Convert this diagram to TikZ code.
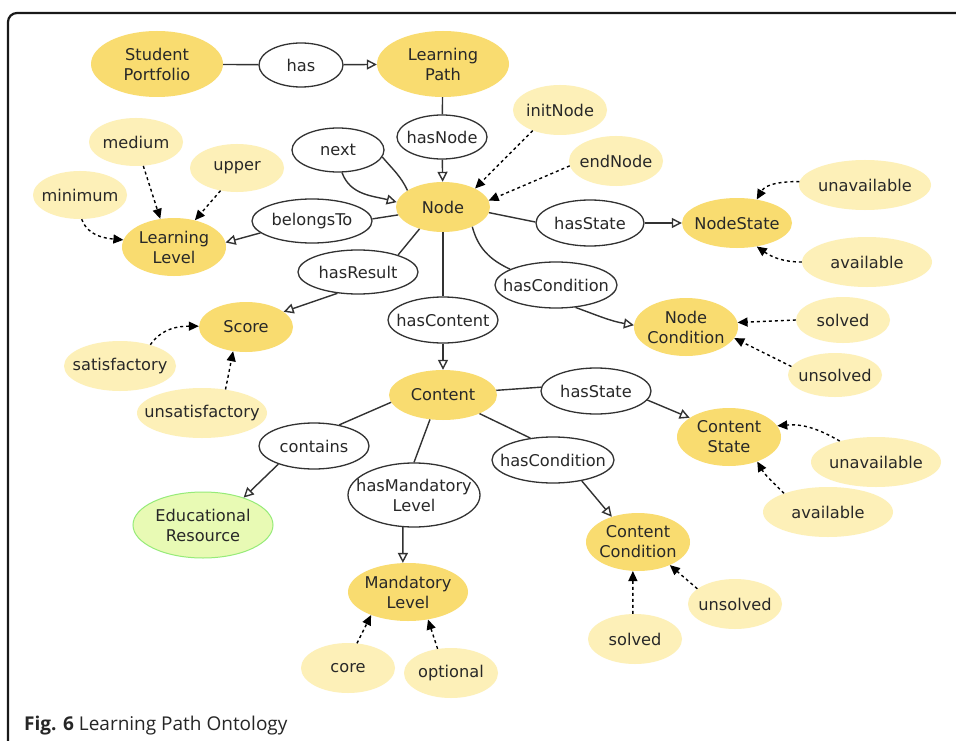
\documentclass[tikz,border=0pt]{standalone}
\usepackage{fontspec}
\setmainfont{DejaVu Sans}
\newfontfamily\capfont{Open Sans}
\usetikzlibrary{shapes.geometric,arrows.meta}
\definecolor{gold}{RGB}{249,220,112}
\definecolor{lgold}{RGB}{253,240,184}
\definecolor{lgreen}{RGB}{232,250,180}
\definecolor{gborder}{RGB}{150,235,120}
\definecolor{txt}{RGB}{40,40,40}
\definecolor{edgec}{RGB}{50,50,50}
\begin{document}
\begin{tikzpicture}[x=1pt,y=1pt,
  sz/.style n args={2}{minimum width=#1pt, minimum height=#2pt},
  lbl/.style={font=\fontsize{16.2}{20}\selectfont, text=txt, align=center, inner sep=0pt},
  cls/.style={ellipse, fill=gold, inner sep=0pt},
  ind/.style={ellipse, fill=lgold, inner sep=0pt},
  prop/.style={ellipse, draw=edgec, line width=1.3pt, fill=white, inner sep=0pt},
  er/.style={ellipse, fill=lgreen, draw=gborder, line width=1pt, inner sep=0pt},
  link/.style={draw=edgec, line width=1.4pt},
  isa/.style={link, -{Triangle[open, length=10pt, width=10pt]}},
  inst/.style={draw=black, line width=1.4pt, dash pattern=on 3pt off 3pt, -{Triangle[length=10pt,width=9pt]}}
]
\useasboundingbox (0,0) rectangle (956,-741);
\fill[white] (0,0) rectangle (956,-741);
\draw[line width=2.2pt, rounded corners=9pt, draw=black!90] (8,-760) -- (8,-13) -- (970,-13);

% nodes
\node[cls, sz={132}{66}, label={[lbl]center:Student\\Portfolio}] (SP) at (157,-64) {};
\node[prop, sz={84}{44}, label={[lbl]center:has}] (has) at (301,-65) {};
\node[cls, sz={132}{66}, label={[lbl]center:Learning\\Path}] (LP) at (443,-64) {};
\node[prop, sz={90}{44}, label={[lbl]center:hasNode}] (hasNode) at (442,-137) {};
\node[cls, sz={94}{50}, label={[lbl]center:Node}] (Node) at (443,-207) {};
\node[prop, sz={92}{44}, label={[lbl]center:next}] (next) at (338,-150) {};
\node[prop, sz={120}{44}, label={[lbl]center:belongsTo}] (belongsTo) at (312,-221) {};
\node[prop, sz={120}{44}, label={[lbl]center:hasResult}] (hasResult) at (358,-272) {};
\node[ind, sz={94}{48}, label={[lbl]center:medium}] (medium) at (136,-142) {};
\node[ind, sz={94}{48}, label={[lbl]center:upper}] (upper) at (237,-168) {};
\node[ind, sz={94}{48}, label={[lbl]center:minimum}] (minimum) at (80,-195) {};
\node[cls, sz={104}{58}, label={[lbl]center:Learning\\Level}] (LL) at (174,-247) {};
\node[ind, sz={94}{50}, label={[lbl]center:initNode}] (initNode) at (560,-110) {};
\node[ind, sz={94}{50}, label={[lbl]center:endNode}] (endNode) at (616,-161) {};
\node[prop, sz={108}{46}, label={[lbl]center:hasState}] (hasState) at (590,-223) {};
\node[cls, sz={110}{50}, label={[lbl]center:NodeState}] (NodeState) at (737,-223) {};
\node[ind, sz={132}{50}, label={[lbl]center:unavailable}] (unavN) at (865,-185) {};
\node[ind, sz={130}{50}, label={[lbl]center:available}] (avN) at (867,-262) {};
\node[prop, sz={122}{46}, label={[lbl]center:hasCondition}] (hasCondN) at (556,-285) {};
\node[prop, sz={110}{46}, label={[lbl]center:hasContent}] (hasContent) at (443,-320) {};
\node[cls, sz={104}{58}, label={[lbl]center:Node\\Condition}] (NC) at (686,-327) {};
\node[ind, sz={94}{46}, label={[lbl]center:solved}] (solvedN) at (843,-320) {};
\node[ind, sz={94}{44}, label={[lbl]center:unsolved}] (unsolvedN) at (835,-375) {};
\node[cls, sz={94}{50}, label={[lbl]center:Score}] (Score) at (246,-327) {};
\node[ind, sz={112}{50}, label={[lbl]center:satisfactory}] (satis) at (120,-366) {};
\node[ind, sz={130}{50}, label={[lbl]center:unsatisfactory}] (unsatis) at (202,-413) {};
\node[cls, sz={108}{50}, label={[lbl]center:Content}] (Content) at (443,-395) {};
\node[prop, sz={110}{46}, label={[lbl]center:contains}] (contains) at (314,-446) {};
\node[er, sz={140}{66}, label={[lbl]center:Educational\\Resource}] (ER) at (203,-525) {};
\node[prop, sz={132}{64}, label={[lbl]center:hasMandatory\\Level}] (hasML) at (414,-495) {};
\node[prop, sz={110}{46}, label={[lbl]center:hasState}] (hasStateC) at (596,-391) {};
\node[prop, sz={122}{46}, label={[lbl]center:hasCondition}] (hasCondC) at (553,-460) {};
\node[cls, sz={104}{58}, label={[lbl]center:Content\\State}] (CS) at (729,-437) {};
\node[ind, sz={130}{50}, label={[lbl]center:unavailable}] (unavC) at (876,-462) {};
\node[ind, sz={130}{50}, label={[lbl]center:available}] (avC) at (828,-512) {};
\node[cls, sz={104}{58}, label={[lbl]center:Content\\Condition}] (CC) at (638,-542) {};
\node[cls, sz={120}{58}, label={[lbl]center:Mandatory\\Level}] (ML) at (408,-592) {};
\node[ind, sz={94}{50}, label={[lbl]center:core}] (core) at (348,-668) {};
\node[ind, sz={94}{50}, label={[lbl]center:optional}] (optional) at (451,-673) {};
\node[ind, sz={94}{50}, label={[lbl]center:solved}] (solvedC) at (635,-639) {};
\node[ind, sz={94}{50}, label={[lbl]center:unsolved}] (unsolvedC) at (735,-604) {};

\node[anchor=base west, inner sep=0pt, font=\capfont\fontsize{19}{22}\selectfont, text=black!85] (cap) at (24,-730) {\textbf{Fig. 6} Learning Path Ontology};

% property links
\draw[link] (SP) -- (has);
\draw[isa] (has) -- (LP);
\draw[link] (LP) -- (hasNode);
\draw[isa] (hasNode) -- (Node);
\draw[link] (Node.155) to[out=115, in=-50] (next.-9);
\draw[isa] (next.-80) to[out=-70, in=165] (Node.174);
\draw[link] (Node.190) -- (belongsTo.2);
\draw[isa] (belongsTo.193) -- (LL.5);
\draw[link] (Node.223) -- (hasResult.23);
\draw[isa] (hasResult.226) -- (Score.22);
\draw[link] (Node) -- (hasContent);
\draw[isa] (hasContent) -- (Content);
\draw[link] (Node.-7) -- (hasState.179);
\draw[isa] (hasState) -- (NodeState);
\draw[link] (Node.-34) to[out=-75, in=155] (hasCondN.161);
\draw[isa] (hasCondN.-49) to[out=-20, in=170] (NC.178);
\draw[link] (Content.188) -- (contains.40);
\draw[isa] (contains.207) -- (ER.34);
\draw[link] (Content.242) -- (hasML.90);
\draw[isa] (hasML.251) -- (ML.100);
\draw[link] (Content.5) -- (hasStateC.176);
\draw[isa] (hasStateC.-10) -- (CS.154);
\draw[link] (Content.-27) -- (hasCondC.136);
\draw[isa] (hasCondC.-36) -- (CC.136);

% instance links
\draw[inst] (initNode.217) -- (Node.30);
\draw[inst] (endNode.186) -- (Node.8);
\draw[inst] (medium.-73) -- (LL.116);
\draw[inst] (upper.234) -- (LL.52);
\draw[inst] (minimum.-86) to[out=-70, in=175] (LL.172);
\draw[inst] (unavN.177) to[out=180, in=60] (NodeState.50);
\draw[inst] (avN.180) to[out=180, in=-35] (NodeState.-50);
\draw[inst] (unavC.150) to[out=150, in=5] (CS.13);
\draw[inst] (avC.157) to[out=135, in=-60] (CS.-41);
\draw[inst] (solvedN.180) -- (NC.5);
\draw[inst] (unsolvedN.169) -- (NC.-13);
\draw[inst] (solvedC.95) -- (CC.260);
\draw[inst] (unsolvedC.158) -- (CC.-36);
\draw[inst] (core.70) -- (ML.212);
\draw[inst] (optional.119) -- (ML.-54);
\draw[inst] (satis.35) to[out=55, in=180] (Score.179);
\draw[inst] (unsatis.45) -- (Score.242);
\end{tikzpicture}
\end{document}
